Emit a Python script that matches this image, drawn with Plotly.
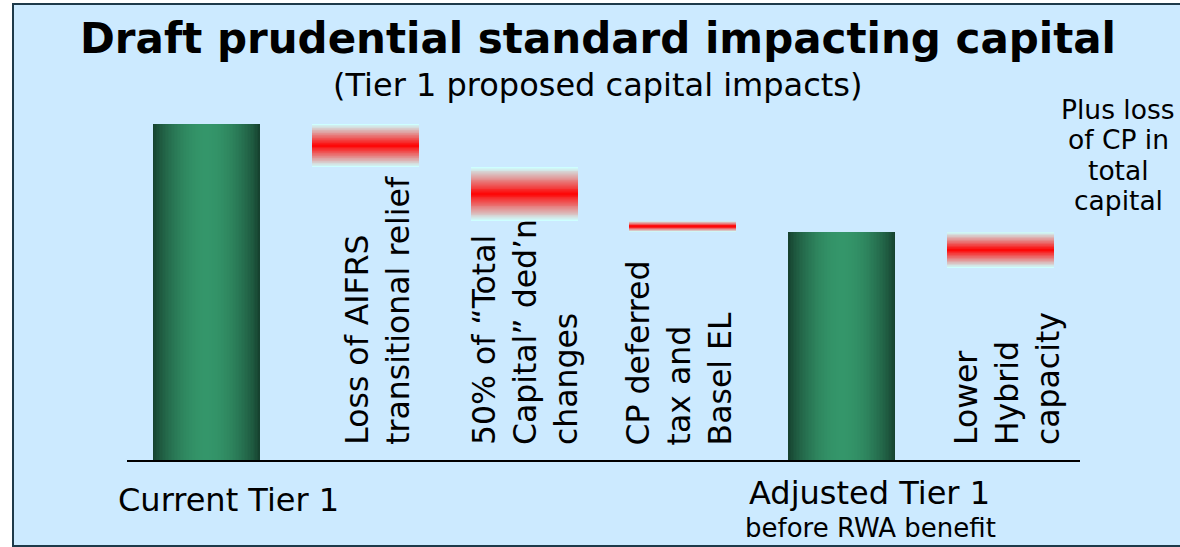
import math
import plotly.graph_objects as go

# ---------------- data ----------------
categories = [
    "Current Tier 1",
    "Loss of AIFRS transitional relief",
    "50% of “Total Capital” ded’n changes",
    "CP deferred tax and Basel EL",
    "Adjusted Tier 1",
    "Lower Hybrid capacity",
]
current_tier1 = 100.0
tier1_impacts = [12.8, 16.0, 3.3]      # AIFRS relief, Total Capital ded'n, CP deferred tax
hybrid_impact = 10.7                   # lower hybrid capacity (below adjusted Tier 1)

step_labels = [
    "Loss of AIFRS<br>transitional relief",
    "50% of “Total<br>Capital” ded’n<br>changes",
    "CP deferred<br>tax and<br>Basel EL",
    "Lower<br>Hybrid<br>capacity",
]
side_note = ["Plus loss", "of CP in", "total", "capital"]

# ---------------- derived waterfall values ----------------
adjusted_tier1 = current_tier1 - sum(tier1_impacts)
total_x = [0, 4]
total_y = [current_tier1, adjusted_tier1]

step_x = [1, 2, 3, 5]
step_h = tier1_impacts + [hybrid_impact]
step_top = []
level = current_tier1
for h in tier1_impacts:
    step_top.append(level)
    level -= h
step_top.append(adjusted_tier1)
step_base = [t - h for t, h in zip(step_top, step_h)]

# ---------------- geometry ----------------
W, H = 1180, 547
ML, MR, MT, MB = 127, 100, 100, 87
PW, PH = W - ML - MR, H - MT - MB
Y_MAX = PH / 3.36
BAR_W = 0.674

BG = "#cceaff"
FONT = "DejaVu Sans"


def py(p):
    """pixel row -> paper y"""
    return (H - MB - p) / PH


def px(p):
    """pixel column -> paper x"""
    return (p - ML) / PW


def mix(c1, c2, f):
    return "rgb(%d,%d,%d)" % tuple(round(a + (b - a) * f) for a, b in zip(c1, c2))


fig = go.Figure()

# green totals: nested bars give a cylindrical shading across the width
G_EDGE, G_MID = (22, 66, 47), (52, 150, 106)
NG = 36
for k in range(NG):
    t = 1 - k / NG
    fig.add_trace(go.Bar(
        x=total_x, y=total_y, width=[BAR_W * t] * len(total_x),
        marker=dict(color=mix(G_EDGE, G_MID, math.cos(math.pi / 2 * t) ** 0.8), line_width=0),
        showlegend=False, hoverinfo="skip",
    ))

# red floating steps: nested bars fade from light cyan edges to a red core
R_EDGE, R_MID = (206, 255, 255), (255, 0, 0)
NR = 30
for k in range(NR):
    t = 1 - k / NR
    fig.add_trace(go.Bar(
        x=step_x,
        y=[h * t for h in step_h],
        base=[b + h * (1 - t) / 2 for b, h in zip(step_base, step_h)],
        width=[BAR_W] * len(step_x),
        marker=dict(color=mix(R_EDGE, R_MID, 1 - t), line_width=0),
        showlegend=False, hoverinfo="skip",
    ))

ann = []
# title and subtitle
ann.append(dict(text="Draft prudential standard impacting capital", x=px(598), y=py(39),
                xref="paper", yref="paper", showarrow=False, xanchor="center", yanchor="middle",
                font=dict(family=FONT, size=42, color="black", weight="bold")))
ann.append(dict(text="(Tier 1 proposed capital impacts)", x=px(597), y=py(85),
                xref="paper", yref="paper", showarrow=False, xanchor="center", yanchor="middle",
                font=dict(family=FONT, size=32, color="black")))

# rotated step labels
label_shift = [12, 1, -4, 6]
for xi, txt, sh in zip(step_x, step_labels, label_shift):
    ann.append(dict(text=txt, x=xi, xref="x", y=py(447), yref="paper", xshift=sh,
                    textangle=-90, align="left", showarrow=False,
                    xanchor="center", yanchor="bottom",
                    font=dict(family=FONT, size=31.5, color="black")))

# total labels under the axis
ann.append(dict(text=categories[0], x=px(228), y=py(500), xref="paper", yref="paper",
                showarrow=False, xanchor="center", yanchor="middle",
                font=dict(family=FONT, size=32, color="black")))
ann.append(dict(text=categories[4], x=px(869), y=py(493), xref="paper", yref="paper",
                showarrow=False, xanchor="center", yanchor="middle",
                font=dict(family=FONT, size=32, color="black")))
ann.append(dict(text="before RWA benefit", x=px(870), y=py(528), xref="paper", yref="paper",
                showarrow=False, xanchor="center", yanchor="middle",
                font=dict(family=FONT, size=26, color="black")))

# side note
for i, line in enumerate(side_note):
    ann.append(dict(text=line, x=px(1118), y=py(109 + 30.5 * i), xref="paper", yref="paper",
                    showarrow=False, xanchor="center", yanchor="middle",
                    font=dict(family=FONT, size=26.5, color="black")))

fig.update_layout(
    width=W, height=H,
    margin=dict(l=ML, r=MR, t=MT, b=MB),
    paper_bgcolor="white", plot_bgcolor="rgba(0,0,0,0)",
    barmode="overlay", bargap=0,
    xaxis=dict(range=[-0.5, 5.5], showticklabels=False, ticks="", showgrid=False,
               zeroline=False, showline=True, linecolor="black", linewidth=2, fixedrange=True),
    yaxis=dict(range=[0, Y_MAX], visible=False, fixedrange=True),
    annotations=ann,
    shapes=[dict(type="rect", xref="paper", yref="paper", layer="below",
                 x0=px(13), x1=px(1195), y0=py(546), y1=py(4),
                 fillcolor=BG, line=dict(color="#1e3a4a", width=2))],
)

fig.write_html("out.html")
